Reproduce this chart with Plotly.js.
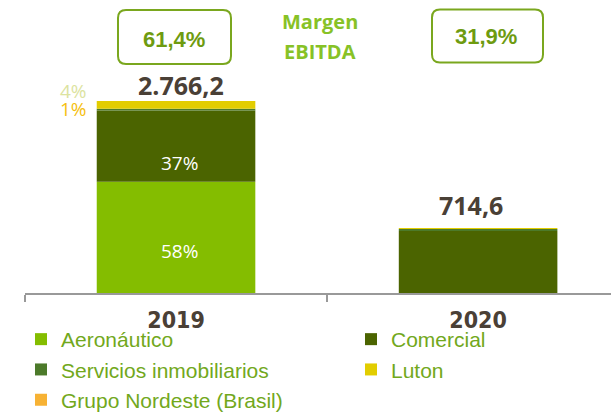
<!DOCTYPE html>
<html><head><meta charset="utf-8">
<script src="https://cdn.plot.ly/plotly-3.0.1.min.js"></script>
<style>html,body{margin:0;padding:0;background:#fff}</style>
</head><body><div id="chart" style="width:611px;height:413px"></div>
<script>
// ---- data ----
const categories = ['2019', '2020'];
const aeronautico = [1604.4, -222.4];
const comercial = [1023.5, 893.0];
const servicios = [27.7, 30.0];
const luton = [110.6, 14.0];
const nordeste = [0, 0];
const totalLabels = ['2.766,2', '714,6'];
const aeroPct = ['58%', ''];
const comPct = ['37%', ''];
const smallPct = ['4%', '1%'];
const margins = ['61,4%', '31,9%'];
const marginTitle = ['Margen', 'EBITDA'];
const seriesNames = ['Aeronáutico', 'Comercial', 'Servicios inmobiliarios', 'Luton', 'Grupo Nordeste (Brasil)'];
const seriesColors = ['#84BD00', '#4B6400', '#4C7A2A', '#E2CD00', '#F7B234'];
const seriesLegend = ['legend', 'legend2', 'legend', 'legend2', 'legend'];
const seriesValues = [aeronautico, comercial, servicios, luton, nordeste];

// ---- frame helpers ----
const W = 611, H = 413, ML = 25, MR = 0, MT = 15, MB = 120;
const PW = W - ML - MR, PH = H - MT - MB;
const X_RANGE = [-0.5, 1.44], Y_RANGE = [0, 4005];
const px = v => (v - ML) / PW;          // pixel -> paper
const py = v => (H - MB - v) / PH;
const dx = i => (i - X_RANGE[0]) / (X_RANGE[1] - X_RANGE[0]);   // category index -> paper
const dy = v => (v - Y_RANGE[0]) / (Y_RANGE[1] - Y_RANGE[0]);   // value -> paper
function roundRect(x0, y0, x1, y1, r) {
  const P = (x, y) => px(x).toFixed(5) + ',' + py(y).toFixed(5);
  return 'M' + P(x0 + r, y0) + ' L' + P(x1 - r, y0) + ' Q' + P(x1, y0) + ' ' + P(x1, y0 + r) +
    ' L' + P(x1, y1 - r) + ' Q' + P(x1, y1) + ' ' + P(x1 - r, y1) +
    ' L' + P(x0 + r, y1) + ' Q' + P(x0, y1) + ' ' + P(x0, y1 - r) +
    ' L' + P(x0, y0 + r) + ' Q' + P(x0, y0) + ' ' + P(x0 + r, y0) + ' Z';
}

const traces = seriesNames.map((n, k) => ({
  type: 'bar', name: n, x: categories, y: seriesValues[k], legend: seriesLegend[k],
  marker: {color: seriesColors[k], line: {width: 0}},
  width: 0.525, hoverinfo: 'skip'
}));

const stackTop = categories.map((c, i) => seriesValues.reduce((s, a) => s + (a[i] > 0 ? a[i] : 0), 0));

const dark = '#4A4036';
const annotations = [];
function addText(xp, yp, text, font, xs, ys) {
  annotations.push({xref: 'paper', yref: 'paper', x: xp, y: yp, xanchor: 'center', yanchor: 'middle',
    xshift: xs || 0, yshift: ys || 0, text: text, showarrow: false, font: font});
}
// totals above the bars
const totShift = [[5, 16], [-7, 23]];
categories.forEach((c, i) => addText(dx(i), dy(stackTop[i]), totalLabels[i],
  {family: 'Open Sans', size: 25, color: dark, weight: 'bold'}, totShift[i][0], totShift[i][1]));
// inside percents
const pctFont = {family: 'Open Sans', size: 19, color: '#FFFFFF'};
addText(dx(0), dy(aeronautico[0] / 2), aeroPct[0], pctFont, 3, -14);
addText(dx(0), dy(aeronautico[0] + comercial[0] / 2), comPct[0], pctFont, 3, -17);
// small percents at left
addText(px(73), py(91), smallPct[0], {family: 'Open Sans', size: 19, color: '#DCE3A0'});
addText(px(73), py(109), smallPct[1], {family: 'Open Sans', size: 19, color: '#F5C010'});
// margin boxes text
addText(px(174), py(39), margins[0], {family: 'Liberation Sans', size: 22, color: '#6E9B10', weight: 'bold'});
addText(px(486), py(37), margins[1], {family: 'Liberation Sans', size: 22, color: '#6E9B10', weight: 'bold'});
addText(px(320), py(22), marginTitle[0], {family: 'Open Sans', size: 20, color: '#87C226', weight: 'bold'});
addText(px(320), py(52), marginTitle[1], {family: 'Open Sans', size: 20, color: '#87C226', weight: 'bold'});

const boxLine = {color: '#7AA71E', width: 2};
const shapes = [
  {type: 'path', xref: 'paper', yref: 'paper', path: roundRect(118, 10, 231, 64, 8), line: boxLine},
  {type: 'path', xref: 'paper', yref: 'paper', path: roundRect(432, 9.5, 543, 62.5, 8), line: boxLine}
];

const legendFont = {family: 'Liberation Sans', size: 21, color: '#72A81C'};
const layout = {
  width: W, height: H,
  margin: {l: ML, r: MR, t: MT, b: MB, pad: 0, autoexpand: false},
  paper_bgcolor: '#FFFFFF', plot_bgcolor: '#FFFFFF',
  barmode: 'relative',
  xaxis: {
    type: 'category', range: X_RANGE, tickson: 'boundaries',
    ticks: 'outside', ticklen: 7, tickwidth: 2, tickcolor: '#999999',
    showline: true, linecolor: '#999999', linewidth: 2,
    showgrid: false, zeroline: false, fixedrange: true, automargin: false,
    tickfont: {family: 'Liberation Sans Narrow, DejaVu Sans Condensed, Liberation Sans, Arial, sans-serif', size: 23, color: dark, weight: 'bold'},
    ticklabelstandoff: 5
  },
  yaxis: {range: Y_RANGE, visible: false, showgrid: false, zeroline: false, fixedrange: true},
  showlegend: true,
  legend: {
    orientation: 'v', x: px(21), y: py(319), xanchor: 'left', yanchor: 'top',
    traceorder: 'normal', font: legendFont,
    bgcolor: 'rgba(0,0,0,0)', borderwidth: 0, itemclick: false, itemdoubleclick: false
  },
  legend2: {
    orientation: 'v', x: px(351), y: py(319), xanchor: 'left', yanchor: 'top',
    traceorder: 'normal', font: legendFont,
    bgcolor: 'rgba(0,0,0,0)', borderwidth: 0, itemclick: false, itemdoubleclick: false
  },
  annotations: annotations,
  shapes: shapes
};

Plotly.newPlot('chart', traces, layout, {displayModeBar: false, staticPlot: true});
</script></body></html>
